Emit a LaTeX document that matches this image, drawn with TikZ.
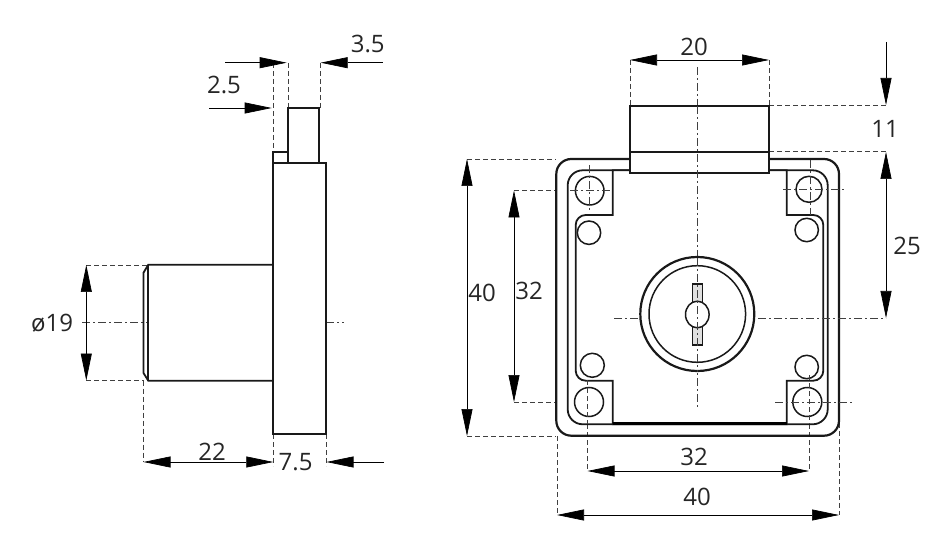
\documentclass[tikz,border=0pt]{standalone}
\usepackage{fontspec}
\setmainfont{Open Sans}
\usetikzlibrary{arrows.meta,shapes.geometric}
\tikzset{
  part/.style={draw=black!90,line width=1.8pt,line join=miter},
  thick part/.style={draw=black!90,line width=2.2pt},
  hole/.style={draw=black!90,line width=1.5pt,fill=white},
  dim/.style={draw=black,line width=.7pt},
  dimboth/.style={dim,{Triangle[length=27pt,width=11pt]}-{Triangle[length=27pt,width=11pt]}},
  dimto/.style={dim,-{Triangle[length=27pt,width=11pt]}},
  ext/.style={draw=black!75,line width=.7pt,dash pattern=on 5pt off 3pt},
  axis/.style={draw=black!75,line width=.7pt,dash pattern=on 8pt off 3pt on 2pt off 3pt},
  lab/.style={font=\fontsize{24}{24}\selectfont,text=black!85,inner sep=0pt,anchor=center}
}
\begin{document}
\begin{tikzpicture}[x=1pt,y=-1pt]
\useasboundingbox (0,0) rectangle (951,556);
% --- left view: axis and extension lines
\draw[axis] (82,322) -- (148,322);
\draw[axis] (326,322) -- (344,322);
\draw[ext] (86,265) -- (148,265);
\draw[ext] (86,380.5) -- (143.5,380.5);
\draw[ext] (143.5,380.5) -- (143.5,462);
\draw[ext] (273.3,434) -- (273.3,466);
\draw[ext] (326,434) -- (326,466);
\draw[ext] (273,63) -- (273,152);
\draw[ext] (288.3,63) -- (288.3,108);
\draw[ext] (320,63) -- (320,108);
% --- left view: part
\draw[part] (288.3,163.3) rectangle (319.3,108.3);
\draw[part] (273.3,163.3) rectangle (288.3,152.3);
\draw[part] (273.3,163.3) rectangle (326,434.3);
\draw[part] (273.3,264.7) -- (148.3,264.7) -- (143.5,272.7) -- (143.5,373) -- (148.3,380.7) -- (273.3,380.7);
\draw[part] (148.3,264.7) -- (148.3,380.7);
% --- left view: dimensions
\coordinate (a19t) at (86.3,265); \coordinate (a19b) at (86.3,380.5);
\draw[dimboth] (a19t) -- (a19b);
\coordinate (a22l) at (143.5,462); \coordinate (a22r) at (273.3,462);
\draw[dimboth] (a22l) -- (a22r);
\coordinate (a75s) at (384,462); \coordinate (a75e) at (326.5,462);
\draw[dimto] (a75s) -- (a75e);
\coordinate (a25s) at (209,108); \coordinate (a25e) at (271.7,108);
\draw[dimto] (a25s) -- (a25e);
\coordinate (a35as) at (225,62.7); \coordinate (a35ae) at (286.7,62.7);
\draw[dimto] (a35as) -- (a35ae);
\coordinate (a35bs) at (382.7,62.7); \coordinate (a35be) at (320.7,62.7);
\draw[dimto] (a35bs) -- (a35be);
\node[lab] (t19) at (52,323) {ø19};
\node[lab] (t22) at (212,452) {22};
\node[lab] (t75) at (295.6,462) {7.5};
\node[lab] (t25) at (224,85) {2.5};
\node[lab] (t35) at (367.7,44) {3.5};
% --- right view: extension lines
\draw[ext] (630,60) -- (630,106);
\draw[ext] (769,60) -- (769,106);
\draw[ext] (769,105.5) -- (886,105.5);
\draw[ext] (769,151.5) -- (886,151.5);
\draw[ext] (467,159) -- (556,159);
\draw[ext] (467,436) -- (556,436);
\draw[ext] (514,190.5) -- (556,190.5);
\draw[ext] (514,402) -- (556,402);
\draw[ext] (557,436) -- (557,515);
\draw[ext] (839,415) -- (839,515);
\draw[ext] (587.5,424) -- (587.5,471);
\draw[ext] (809,424) -- (809,471);
\draw[axis] (697.3,67) -- (697.3,106);
% --- right view: body
\draw[thick part] (556.3,159) [rounded corners=15pt] -- (839,159) -- (839,435.7) -- (556.3,435.7) -- cycle;
\draw[part] (567.7,170.3) [rounded corners=15pt] -- (827.7,170.3) -- (827.7,424.3) -- (567.7,424.3) -- cycle;
\draw[part,fill=white] (612.7,170.3) -- (612.7,215) [rounded corners=10pt] -- (575.7,215) -- (575.7,380.7) [sharp corners] -- (612.7,380.7) -- (612.7,424.3) -- (786.7,424.3) -- (786.7,380.7) [rounded corners=10pt] -- (823.3,380.7) -- (823.3,215) [sharp corners] -- (786.7,215) -- (786.7,170.3) -- cycle;
\draw[draw=black,line width=3pt] (612.7,423) -- (786.7,423);
% latch
\draw[part,fill=white] (629.7,106.3) rectangle (769.3,173);
\draw[part] (629.7,152) -- (769.3,152);
% centre lines
\draw[axis] (697.3,106) -- (697.3,407);
\draw[axis] (614,318.5) -- (886,318.5);
% mounting holes
\node[hole,circle,minimum size=28.6pt,inner sep=0pt] (h1) at (589.7,190.7) {};
\node[hole,circle,minimum size=23.4pt,inner sep=0pt] (h2) at (589,232.7) {};
\node[hole,circle,minimum size=26pt,inner sep=0pt] (h3) at (809,189.3) {};
\node[hole,circle,minimum size=23.4pt,inner sep=0pt] (h4) at (806.7,230) {};
\node[hole,circle,minimum size=24pt,inner sep=0pt] (h5) at (592.3,365.3) {};
\node[hole,circle,minimum size=29pt,inner sep=0pt] (h6) at (589,402) {};
\node[hole,circle,minimum size=23.4pt,inner sep=0pt] (h7) at (806.7,367) {};
\node[hole,circle,minimum size=29pt,inner sep=0pt] (h8) at (807.3,402) {};
% hole axes
\draw[axis] (589,165) -- (589,212);
\draw[axis] (570,190.5) -- (610,190.5);
\draw[axis] (810.5,160) -- (810.5,215);
\draw[axis] (783,189.3) -- (845,189.3);
\draw[ext] (587.5,380) -- (587.5,424);
\draw[ext] (809,375) -- (809,424);
\draw[axis] (775,402) -- (852,402);
% lock
\node[circle,draw=black!90,line width=2.2pt,fill=white,minimum size=114pt,inner sep=0pt] (lockout) at (697.3,314) {};
\node[circle,draw=black!90,line width=1.5pt,fill=white,minimum size=96.6pt,inner sep=0pt] (lockin) at (697.3,314) {};
\draw[draw=black!90,line width=1.5pt,fill=black!12] (692.7,284) rectangle (702.7,345);
\node[ellipse,draw=black!90,line width=1.5pt,fill=white,minimum width=23.6pt,minimum height=26.6pt,inner sep=0pt] (keyhole) at (697.3,314.5) {};
\draw[axis] (697.3,258) -- (697.3,372);
% --- right view: dimensions
\coordinate (b20l) at (630,60); \coordinate (b20r) at (769,60);
\draw[dimboth] (b20l) -- (b20r);
\coordinate (b11s) at (886,42); \coordinate (b11e) at (886,105);
\draw[dimto] (b11s) -- (b11e);
\coordinate (b25t) at (886,152); \coordinate (b25b) at (886,318);
\draw[dimboth] (b25t) -- (b25b);
\coordinate (b40t) at (467,159); \coordinate (b40b) at (467,436);
\draw[dimboth] (b40t) -- (b40b);
\coordinate (b32t) at (514,190.5); \coordinate (b32b) at (514,402);
\draw[dimboth] (b32t) -- (b32b);
\coordinate (c32l) at (587.5,471); \coordinate (c32r) at (809,471);
\draw[dimboth] (c32l) -- (c32r);
\coordinate (c40l) at (557,515); \coordinate (c40r) at (839,515);
\draw[dimboth] (c40l) -- (c40r);
\node[lab] (t20) at (694,47) {20};
\node[lab] (t11) at (885,129) {11};
\node[lab] (tr25) at (907,246) {25};
\node[lab] (tl40) at (482,293) {40};
\node[lab] (tl32) at (529,291) {32};
\node[lab] (tb32) at (694,457) {32};
\node[lab] (tb40) at (697,497) {40};
\end{tikzpicture}
\end{document}
